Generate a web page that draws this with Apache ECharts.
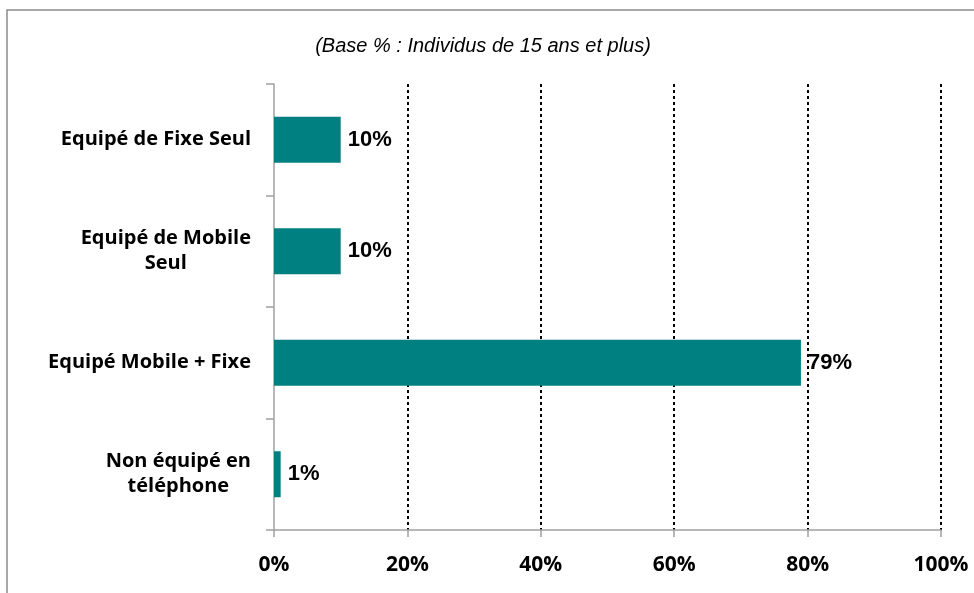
<!DOCTYPE html>
<html>
<head>
<meta charset="utf-8">
<script src="https://cdn.jsdelivr.net/npm/echarts@6/dist/echarts.min.js"></script>
<style>
html, body { margin: 0; padding: 0; background: #fff; }
#main { width: 974px; height: 593px; }
</style>
</head>
<body>
<div id="main"></div>
<script>
// data
var categories = ['Equipé de Fixe Seul', 'Equipé de Mobile\nSeul', 'Equipé Mobile + Fixe', 'Non équipé en\ntéléphone'];
var values = [10, 10, 79, 1];
var xTicks = [0, 20, 40, 60, 80, 100];
var subtitle = '(Base % : Individus de 15 ans et plus)';

var chart = echarts.init(document.getElementById('main'));

var option = {
    animation: false,
    backgroundColor: '#fff',
    title: {
        text: subtitle,
        left: 478,
        top: 31,
        textAlign: 'center',
        textStyle: {
            fontFamily: 'Liberation Sans',
            fontStyle: 'italic',
            fontWeight: 'normal',
            fontSize: 20,
            color: '#000'
        }
    },
    // outer frame of the chart area
    graphic: [
        {
            type: 'rect',
            shape: {x: 7, y: 10, width: 990, height: 600},
            style: {fill: 'none', stroke: '#8c8c8c', lineWidth: 1.5},
            silent: true
        }
    ],
    grid: {left: 274, right: 33, top: 84, bottom: 63},
    xAxis: {
        type: 'value',
        min: xTicks[0],
        max: xTicks[xTicks.length - 1],
        interval: 20,
        axisLine: {show: true, lineStyle: {color: '#a0a0a0', width: 1.5}},
        axisTick: {show: true, length: 7, lineStyle: {color: '#a0a0a0', width: 1.5}},
        axisLabel: {
            margin: 25,
            formatter: '{value}%',
            fontFamily: 'Open Sans',
            fontWeight: 'bold',
            fontSize: 21,
            color: '#000'
        },
        splitLine: {
            show: true,
            showMinLine: false,
            lineStyle: {color: '#000', width: 2, type: [3, 3]}
        }
    },
    yAxis: {
        type: 'category',
        data: categories,
        inverse: true,
        axisLine: {show: true, lineStyle: {color: '#a0a0a0', width: 1.5}},
        axisTick: {show: true, length: 8, lineStyle: {color: '#a0a0a0', width: 1.5}},
        axisLabel: {
            margin: 23,
            align: 'right',
            formatter: function (v) {
                return '{a|' + v + '}';
            },
            rich: {
                a: {
                    align: 'center',
                    fontFamily: 'Open Sans',
                    fontWeight: 'bold',
                    fontSize: 20,
                    lineHeight: 25,
                    color: '#000'
                }
            }
        }
    },
    series: [
        {
            type: 'bar',
            data: values,
            barWidth: 46,
            itemStyle: {color: '#008080'},
            label: {
                show: true,
                position: 'right',
                distance: 7,
                formatter: '{c}%',
                fontFamily: 'Liberation Sans',
                fontWeight: 'bold',
                fontSize: 22,
                color: '#000'
            }
        }
    ]
};

chart.setOption(option);
</script>
</body>
</html>
